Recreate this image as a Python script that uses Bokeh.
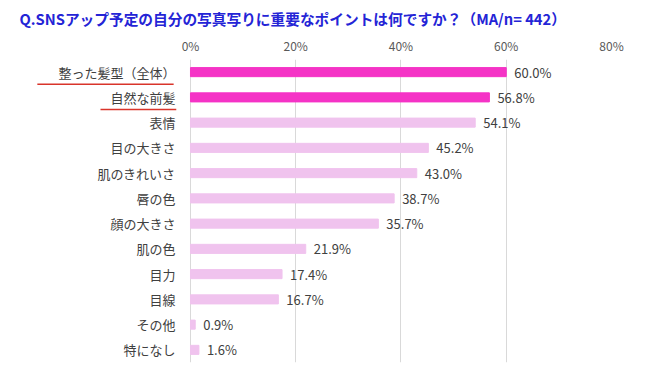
from bokeh.plotting import figure
from bokeh.models import ColumnDataSource, FixedTicker
from bokeh.transform import dodge
from bokeh.core.properties import value
from bokeh.embed import file_html
from bokeh.resources import INLINE

categories = ["整った髪型（全体）", "自然な前髪", "表情", "目の大きさ", "肌のきれいさ",
              "唇の色", "顔の大きさ", "肌の色", "目力", "目線", "その他", "特になし"]
values = [60.0, 56.8, 54.1, 45.2, 43.0, 38.7, 35.7, 21.9, 17.4, 16.7, 0.9, 1.6]
highlight = [True, True] + [False] * 10
x_ticks = [0, 20, 40, 60, 80]
title_text = "Q.SNSアップ予定の自分の写真写りに重要なポイントは何ですか？（MA/n= 442）"

FONT = "Noto Sans CJK JP"
dark = "#F533C6"
light = "#F0C3EE"

src = ColumnDataSource(dict(
    cat=categories,
    val=values,
    lab=[f"{v:.1f}%" for v in values],
    color=[dark if h else light for h in highlight],
    zero=[0] * len(values),
))

X_MIN = -34.2  # room on the left for the category labels

p = figure(width=634, height=368, output_backend="svg", toolbar_location=None,
           y_range=list(reversed(categories)), x_range=(X_MIN, 80),
           x_axis_location="above",
           min_border_left=10, min_border_right=23, min_border_top=58, min_border_bottom=6)
p.outline_line_color = None
p.background_fill_color = "white"
p.border_fill_color = "white"

p.hbar(y="cat", right="val", left=0, height=0.36, color="color", source=src)
p.text(x="val", y="cat", text="lab", source=src, x_offset=8, text_baseline="middle",
       text_font=value(FONT), text_font_size="13px", text_color="#404040")

# category labels (right aligned left of the 0 line)
p.text(x="zero", y="cat", text="cat", source=src, x_offset=-15, text_align="right",
       text_baseline="middle", text_font=value(FONT), text_font_size="13px",
       text_color="#404040")

# red underlines under the highlighted labels
ul = ColumnDataSource(dict(cat=categories[:2], x0=[-29.1, -17.1], x1=[-3.2, -2.7]))
p.segment(x0="x0", x1="x1", y0=dodge("cat", -0.48, range=p.y_range),
          y1=dodge("cat", -0.48, range=p.y_range), source=ul,
          line_color="#D9342B", line_width=1.3)

p.xaxis.ticker = FixedTicker(ticks=x_ticks)
p.xaxis.major_label_overrides = {t: f"{t}%" for t in x_ticks}
p.xaxis.axis_line_color = None
p.xaxis.major_tick_line_color = None
p.xaxis.minor_tick_line_color = None
p.xaxis.major_label_text_font = FONT
p.xaxis.major_label_text_font_size = "12px"
p.xaxis.major_label_text_color = "#595959"
p.xaxis.major_label_standoff = 0

p.yaxis.visible = False

p.xgrid.grid_line_color = "#D9D9D9"
p.xgrid.ticker = FixedTicker(ticks=x_ticks)
p.ygrid.grid_line_color = None

p.title.text = title_text
p.title.text_font = FONT
p.title.text_font_size = "14.7px"
p.title.text_font_style = "bold"
p.title.text_color = "#2424D6"
p.title.align = "left"
p.title.offset = 9

open("out.html", "w").write(file_html(p, INLINE))
